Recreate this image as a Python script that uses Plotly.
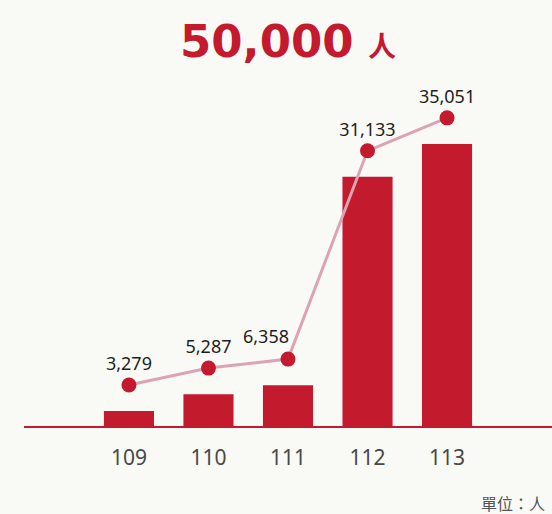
import plotly.graph_objects as go

years = ["109", "110", "111", "112", "113"]
year_pos = [109, 110, 111, 112, 113]
people = [3279, 5287, 6358, 31133, 35051]
labels = ["3,279", "5,287", "6,358", "31,133", "35,051"]

RED = "#c41a2e"
PINK = "#dca3b4"
BG = "#f9f9f6"
LABEL_FONT = dict(family="Noto Sans, DejaVu Sans, sans-serif", size=18, color="#1e1e1e")

# label 111 sits left of its marker in the reference
shift_idx = 2
scatter_text = [t if i != shift_idx else "" for i, t in enumerate(labels)]

fig = go.Figure()
fig.add_trace(go.Bar(
    x=year_pos, y=people, marker=dict(color=RED, line=dict(width=0)),
    width=0.63, yaxis="y", hoverinfo="skip"
))
fig.add_trace(go.Scatter(
    x=year_pos, y=people, mode="lines+markers+text",
    line=dict(color=PINK, width=3),
    marker=dict(color=RED, size=15),
    text=scatter_text, textposition="top center",
    textfont=LABEL_FONT,
    yaxis="y2", cliponaxis=False
))

fig.update_layout(
    width=552, height=514,
    margin=dict(l=24, r=0, t=80, b=88),
    paper_bgcolor=BG, plot_bgcolor=BG,
    showlegend=False,
    xaxis=dict(
        range=[107.68, 114.32], tickmode="array", tickvals=year_pos, ticktext=years,
        showgrid=False, zeroline=False, showline=True, linecolor=RED, linewidth=1.5,
        ticks="", ticklabelstandoff=12,
        tickfont=dict(family="Noto Sans, DejaVu Sans, sans-serif", size=21, color="#484848"),
    ),
    yaxis=dict(range=[1500, 42650], visible=False, showgrid=False, zeroline=False),
    yaxis2=dict(range=[-1600, 39550], overlaying="y", visible=False,
                showgrid=False, zeroline=False),
    annotations=[
        dict(
            text=labels[shift_idx], x=year_pos[shift_idx], y=people[shift_idx],
            xref="x", yref="y2", xanchor="center", yanchor="bottom",
            xshift=-22, yshift=9, showarrow=False, font=LABEL_FONT,
        ),
        dict(
            text="<b>50,000</b> <span style='font-size:28px'><b>人</b></span>",
            xref="paper", yref="paper", x=0.5, y=1.11, xanchor="center", yanchor="middle",
            showarrow=False,
            font=dict(family="DejaVu Sans, Noto Sans CJK TC, sans-serif", size=45, color=RED),
        ),
        dict(
            text="單位：人", xref="paper", yref="paper", x=0.99, y=-0.222,
            xanchor="right", yanchor="middle", showarrow=False,
            font=dict(family="Noto Sans CJK TC, sans-serif", size=16, color="#555555"),
        ),
    ],
)

fig.write_html(
    "out.html",
    config={"displayModeBar": False},
    post_script="document.body.style.margin='0';document.body.style.padding='0';"
                "document.body.style.overflow='hidden';",
)
